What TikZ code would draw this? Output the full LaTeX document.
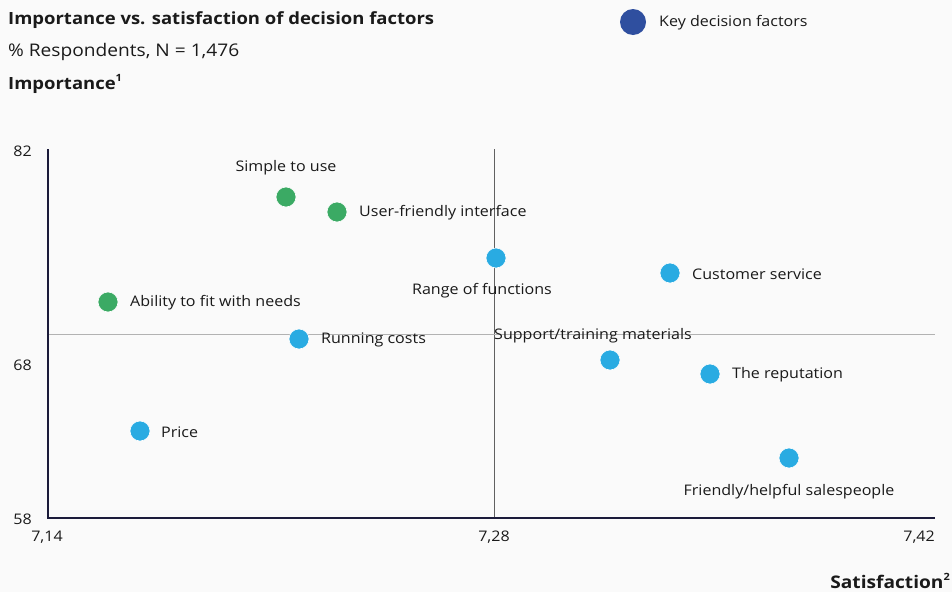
\documentclass[tikz,border=0pt]{standalone}
\usepackage{fontspec}
\setmainfont{Open Sans}[FakeStretch=1.1]
\definecolor{bgc}{HTML}{FAFAFA}
\definecolor{gdotc}{HTML}{3BAA64}
\definecolor{bdotc}{HTML}{29ABE2}
\definecolor{legc}{HTML}{2F4F9F}
\definecolor{axc}{HTML}{1B1B3A}
\definecolor{txtc}{HTML}{1A1A1A}
\tikzset{
  dotg/.style={circle,fill=gdotc,draw=white,line width=0.6pt,minimum size=20pt,inner sep=0pt},
  dotb/.style={circle,fill=bdotc,draw=white,line width=0.6pt,minimum size=20pt,inner sep=0pt},
  lbl/.style={inner sep=0pt,text=txtc,font=\fontsize{14.6}{18}\selectfont},
  tick/.style={inner sep=0pt,text=txtc,font=\fontsize{14.6}{18}\selectfont},
  hdr/.style={inner sep=0pt,text=txtc,font=\fontsize{16.8}{20}\selectfont\bfseries},
}
\newcommand{\supn}[1]{\raisebox{0.5em}{\fontsize{10}{11}\selectfont\bfseries #1}}
\begin{document}
\begin{tikzpicture}[x=1pt,y=-1pt]
\fill[bgc] (0,0) rectangle (952,592);
\useasboundingbox (0,0) rectangle (952,592);
% titles
\node[hdr,anchor=west] (title) at (8,20) {Importance vs. satisfaction of decision factors};
\node[inner sep=0pt,anchor=west,text=txtc,font=\fontsize{17.4}{20}\selectfont] (sub) at (8,52) {\% Respondents, N = 1,476};
\node[hdr,anchor=west] (ylab) at (8,84) {Importance\supn{1}};
\node[hdr,anchor=east,font=\fontsize{17.4}{20}\selectfont\bfseries] (xlab) at (950,581) {Satisfaction\supn{2}};
% legend
\node[circle,fill=legc,minimum size=26pt,inner sep=0pt] (legdot) at (633,22) {};
\node[lbl,anchor=west] (legtxt) at (659,23) {Key decision factors};
% axes
\coordinate (o) at (48,518);
\coordinate (ytop) at (48,149);
\coordinate (xend) at (935,518);
\coordinate (vt) at (494,149);
\coordinate (vb) at (494,518);
\coordinate (hl) at (48,334);
\coordinate (hr) at (935,334);
\draw[gray!75!black,line width=0.8pt] (vt) -- (vb);
\draw[gray!60,line width=1pt] (hl) -- (hr);
\draw[axc,line width=1.2pt] (ytop) -- (o) -- (xend);
% ticks
\node[tick,anchor=east] (t82) at (32,151) {82};
\node[tick,anchor=east] (t68) at (32,365) {68};
\node[tick,anchor=east] (t58) at (32,519) {58};
\node[tick] (t714) at (47,537) {7,14};
\node[tick] (t728) at (494,537) {7,28};
\node[tick,anchor=east] (t742) at (935,537) {7,42};
% points
\node[dotg] (p1) at (286,197) {};
\node[lbl] (l1) at (286,168) {Simple to use};
\node[dotg] (p2) at (337,212) {};
\node[lbl,anchor=west] (l2) at (359,213) {User-friendly interface};
\node[dotb] (p3) at (496,258) {};
\node[lbl] (l3) at (482,291) {Range of functions};
\node[dotb] (p4) at (670,273) {};
\node[lbl,anchor=west] (l4) at (692,274) {Customer service};
\node[dotg] (p5) at (108,302) {};
\node[lbl,anchor=west] (l5) at (130,303) {Ability to fit with needs};
\node[dotb] (p6) at (299,339) {};
\node[lbl,anchor=west] (l6) at (321,340) {Running costs};
\node[dotb] (p7) at (610,360) {};
\node[lbl] (l7) at (593,336) {Support/training materials};
\node[dotb] (p8) at (710,374) {};
\node[lbl,anchor=west] (l8) at (732,375) {The reputation};
\node[dotb] (p9) at (140,431) {};
\node[lbl,anchor=west] (l9) at (161,432) {Price};
\node[dotb] (p10) at (789,458) {};
\node[lbl] (l10) at (789,492) {Friendly/helpful salespeople};
\end{tikzpicture}
\end{document}
